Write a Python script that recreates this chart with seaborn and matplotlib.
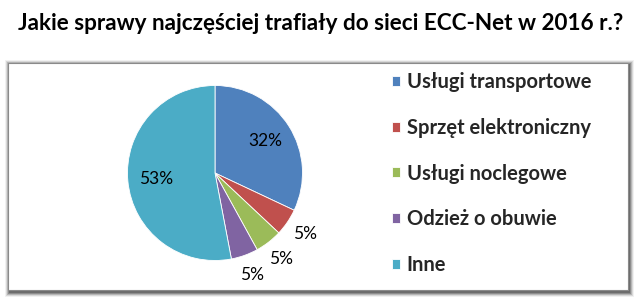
import numpy as np
import matplotlib
matplotlib.use("Agg")
import matplotlib.pyplot as plt
from matplotlib.patches import Rectangle
import seaborn as sns

categories = ["Usługi transportowe", "Sprzęt elektroniczny", "Usługi noclegowe",
              "Odzież o obuwie", "Inne"]
values = [32, 5, 5, 5, 53]
colors = ["#4F81BD", "#C0504D", "#9BBB59", "#8064A2", "#4BACC6"]
title = "Jakie sprawy najczęściej trafiały do sieci ECC-Net w 2016 r.?"

sns.set_theme(style="white")
plt.rcParams['font.family'] = ['Lato', 'DejaVu Sans']

W, H = 638, 306
fig = plt.figure(figsize=(W / 100, H / 100), dpi=100)
fig.patch.set_facecolor("white")

def frect(x0, y0, x1, y1, **kw):
    r = Rectangle((x0 / W, 1 - y1 / H), (x1 - x0) / W, (y1 - y0) / H,
                  transform=fig.transFigure, **kw)
    fig.patches.append(r)

for i, a in enumerate([0.08, 0.15, 0.25, 0.38, 0.5]):
    off = 6 - i
    frect(8 - off + 3, 63 - off + 3, 628 + off, 291 + off,
          facecolor=(0.3, 0.3, 0.3, a), edgecolor="none", zorder=0)
frect(8, 63, 628, 290, facecolor="white", edgecolor="#8a8a8a", linewidth=0.8, zorder=1)

fig.text(0.502, 1 - 23 / H, title, ha="center", va="center", fontsize=16.2,
         fontweight="bold", color="black")

cx, cy, R = 215, 173, 87.5
ax = fig.add_axes([(cx - R) / W, 1 - (cy + R) / H, 2 * R / W, 2 * R / H])
ax.set_zorder(2)
pal = sns.color_palette(colors)
wedges, texts, autotexts = ax.pie(values, colors=pal, startangle=90, counterclock=False,
                                  autopct=lambda p: f"{p:.0f}%", pctdistance=0.68,
                                  wedgeprops=dict(linewidth=0.6, edgecolor="white"),
                                  textprops=dict(fontsize=12.5, color="black"))
ax.set_xlim(-1, 1)
ax.set_ylim(-1, 1)
ax.set_aspect("equal")
for w, t, v in zip(wedges, autotexts, values):
    if v < 10:
        th = np.deg2rad((w.theta1 + w.theta2) / 2)
        t.set_position((1.24 * np.cos(th), 1.24 * np.sin(th)))
    t.set_clip_on(False)

leg = fig.legend(wedges, categories, loc="upper left",
                 bbox_to_anchor=(392 / W, 1 - 72 / H), frameon=False,
                 prop=dict(size=14.5, weight="bold"), handlelength=0.38, handleheight=0.38,
                 handletextpad=0.35, labelspacing=1.28, borderpad=0, borderaxespad=0)
leg.set_zorder(3)

fig.savefig("out.png", dpi=100, facecolor="white")
